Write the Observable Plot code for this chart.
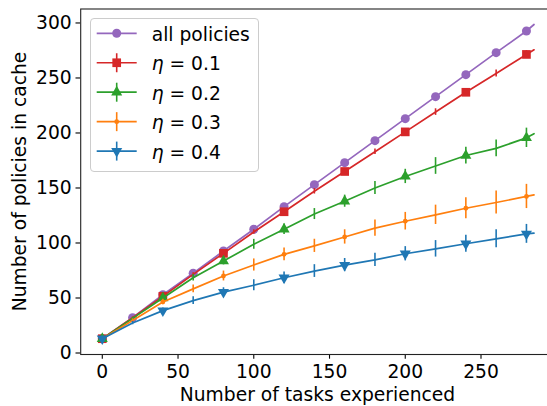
<!DOCTYPE html>
<html><head><meta charset="utf-8">
<script src="https://cdn.jsdelivr.net/npm/d3@7"></script>
<script src="https://cdn.jsdelivr.net/npm/@observablehq/plot@0.6"></script>
<style>body{margin:0;background:#fff} #chart svg{overflow:hidden;display:block}</style>
</head><body><div id="chart"></div>
<script>
// ---- data ----
const tasks = [0,20,40,60,80,100,120,140,160,180,200,220,240,260,280,285];
const allPolicies = [13,32,53,72.5,92.7,112.5,133,153,173,193,213,233,253,273,292.7,298.6];
const eta01 = [13,32,51.5,71.5,90.6,110,128.4,147,165,183,201,219,237,254,271.4,275.6];
const eta01Err = [0,0.8,1.2,1.5,1.8,2,2.2,2.5,2.5,2.5,2.8,3,3,3.2,3.4,null];
const eta02 = [13,31.5,50,68.4,83.6,98.8,112.5,126.3,138,150,160.5,170,179.5,186,195.6,199.3];
const eta02Err = [0,1,2,3,3.5,4.5,4.8,5,5.5,6,6.5,7.6,7.6,7.6,8.8,null];
const eta03 = [13,29.5,46.4,58.3,70,80,89.7,97.4,105.5,113.5,119.8,125.6,131.6,136.8,142.3,143.8];
const eta03Err = [0,1.5,2.5,3.6,4.5,5.5,5.8,6,6.5,7.3,8,8.8,9.5,10.4,11,null];
const eta04 = [13,27.2,38.5,47.6,55.3,61.6,68.4,74.5,79.9,84.7,90.2,94.7,99.3,103.8,108.3,108.9];
const eta04Err = [0,1.5,2.5,3.5,4,5,5.3,5.8,6,6,6.5,7.5,7.8,8.2,8.6,null];

const seriesNames = ["all policies","η = 0.1","η = 0.2","η = 0.3","η = 0.4"];
const seriesColors = ["#9467bd","#d62728","#2ca02c","#ff7f0e","#1f77b4"];
const xTicks = [0,50,100,150,200,250];
const yTicks = [0,50,100,150,200,250,300];
const xLabel = "Number of tasks experienced";
const yLabel = "Number of policies in cache";

// ---- build table ----
const seriesValues = [allPolicies, eta01, eta02, eta03, eta04];
const seriesErrs = [null, eta01Err, eta02Err, eta03Err, eta04Err];
const markerSpec = [
  {symbol:"circle", r:4.5, rotate:0, every:20},
  {symbol:"square", r:4.9, rotate:0, every:40},
  {symbol:"triangle", r:4.1, rotate:0, every:40},
  {symbol:"circle", r:2.4, rotate:0, every:40},
  {symbol:"triangle", r:4.1, rotate:180, every:40}
];
const rows = [];
seriesNames.forEach((name, i) => {
  tasks.forEach((t, j) => {
    rows.push({series:name, idx:i, x:t, y:seriesValues[i][j], e: seriesErrs[i] ? seriesErrs[i][j] : null});
  });
});

const marks = [];
seriesNames.forEach((name, i) => {
  const d = rows.filter(r => r.idx === i);
  const c = seriesColors[i];
  const m = markerSpec[i];
  marks.push(Plot.line(d, {x:"x", y:"y", stroke:c, strokeWidth:1.7}));
  if (seriesErrs[i]) {
    marks.push(Plot.ruleX(d.filter(r => r.e != null && r.e > 0), {x:"x", y1:r=>r.y-r.e, y2:r=>r.y+r.e, stroke:c, strokeWidth:1.6}));
  }
  marks.push(Plot.dot(d.filter(r => r.x % m.every === 0 && r.x <= 280), {x:"x", y:"y", fill:c, stroke:"none", symbol:m.symbol, r:m.r, rotate:m.rotate}));
});

const chart = Plot.plot({
  width: 547, height: 406,
  marginLeft: 80.2, marginRight: 0, marginTop: 8.5, marginBottom: 52,
  style: {fontFamily:"DejaVu Sans", fontSize:"18.7px", color:"#000", background:"#fff", overflow:"hidden"},
  x: {domain:[-14.25, 293.9]},
  y: {domain:[-1.36, 312.7]},
  marks: [
    Plot.axisX({ticks:xTicks, tickSize:4.7, tickPadding:5.5, label:null, fontSize:18.7, strokeWidth:1.1}),
    Plot.axisY({ticks:yTicks, tickSize:4.7, tickPadding:4.3, label:null, fontSize:18.7, strokeWidth:1.1}),
    ...marks,
    Plot.frame({stroke:"#222", strokeWidth:1.1, insetRight:-4})
  ]
});
document.getElementById("chart").appendChild(chart);

// ---- axis labels and legend ----
const svg = d3.select(chart);
svg.append("text").attr("x", 317.5).attr("y", 401)
  .attr("text-anchor","middle").attr("font-family","DejaVu Sans").attr("font-size",18.7).attr("fill","#000")
  .text(xLabel);
svg.append("text").attr("transform","translate(25.5,181.5) rotate(-90)")
  .attr("text-anchor","middle").attr("font-family","DejaVu Sans").attr("font-size",18.7).attr("fill","#000")
  .text(yLabel);

const lg = svg.append("g").attr("font-family","DejaVu Sans").attr("font-size",18.7).attr("text-anchor","start");
lg.append("rect").attr("x",90.5).attr("y",18.5).attr("width",168).attr("height",153).attr("rx",3.5)
  .attr("fill","#fff").attr("fill-opacity",0.8).attr("stroke","#ccc").attr("stroke-width",1);
const symMap = {circle:d3.symbolCircle, square:d3.symbolSquare, triangle:d3.symbolTriangle};
seriesNames.forEach((name, i) => {
  const cy = 33.3 + i*29.45;
  const c = seriesColors[i];
  const m = markerSpec[i];
  const g = lg.append("g");
  g.append("line").attr("x1",96.7).attr("x2",136.7).attr("y1",cy).attr("y2",cy).attr("stroke",c).attr("stroke-width",1.7);
  if (seriesErrs[i]) g.append("line").attr("x1",116.7).attr("x2",116.7).attr("y1",cy-9.5).attr("y2",cy+9.5).attr("stroke",c).attr("stroke-width",1.6);
  g.append("path").attr("d", d3.symbol(symMap[m.symbol], Math.PI*m.r*m.r)())
    .attr("transform",`translate(116.7,${cy}) rotate(${m.rotate})`).attr("fill",c);
  const t = g.append("text").attr("x",151.7).attr("y",cy+7.4).attr("fill","#000").attr("text-anchor","start");
  if (name.startsWith("η")) {
    t.append("tspan").attr("font-style","italic").text("η");
    t.append("tspan").text(name.slice(1));
  } else t.text(name);
});
</script></body></html>
